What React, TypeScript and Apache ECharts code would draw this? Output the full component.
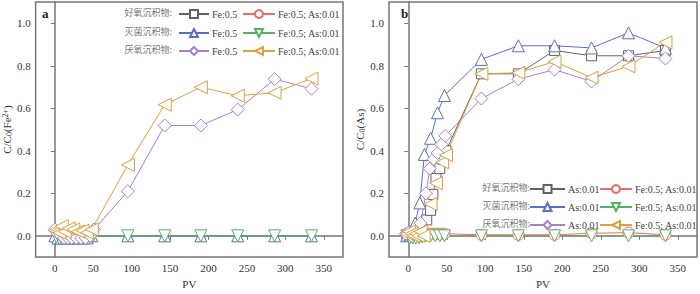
import React, { useEffect, useRef } from "react";
import * as echarts from "echarts";

// ---------- data (PV, C/C0) ----------
const xTicks = [0, 50, 100, 150, 200, 250, 300, 350];
const yTicks = [0, 0.2, 0.4, 0.6, 0.8, 1.0];

// chart a : C/C0(Fe2+)
const aBluePV = [0, 4, 8, 13, 18, 24, 30, 36, 42, 48, 95, 143, 190, 238, 286, 334];
const aBlueC = [0, -0.01, -0.01, -0.01, -0.01, -0.01, -0.01, -0.01, -0.01, 0, 0, 0, 0, 0, 0, 0];
const aGreenPV = [2, 6, 10, 15, 20, 26, 32, 38, 44, 50, 95, 143, 190, 238, 286, 334];
const aGreenC = [-0.005, -0.012, -0.012, -0.012, -0.012, -0.012, -0.012, -0.012, -0.012, 0, 0, 0, 0, 0, 0, 0];
const aPurplePV = [0, 4, 8, 12, 17, 22, 28, 34, 40, 46, 51, 95, 143, 190, 238, 286, 334];
const aPurpleC = [0.03, 0.01, 0.0, -0.01, -0.01, -0.01, -0.01, -0.01, -0.01, 0.0, 0.03, 0.21, 0.519, 0.519, 0.594, 0.737, 0.692];
const aOrangePV = [0, 3, 6, 9, 13, 18, 24, 30, 36, 42, 48, 95, 143, 190, 238, 286, 334];
const aOrangeC = [0.025, 0.02, 0.015, 0.045, 0.02, 0.035, 0.03, 0.02, 0.025, 0.015, 0.03, 0.334, 0.617, 0.699, 0.659, 0.673, 0.74];

// chart b : C/C0(As)
const bGrayPV = [-2, 2, 6, 10, 14, 18, 24, 29, 32, 36, 41, 45, 49, 95, 143, 190, 238, 286, 334];
const bGrayC = [0, 0, 0, 0, 0, 0.01, 0.075, 0.12, 0.195, 0.27, 0.316, 0.36, 0.4, 0.762, 0.762, 0.872, 0.847, 0.847, 0.872];
const bRedPV = [-2, 2, 6, 10, 14, 18, 22, 27, 32, 37, 42, 47, 95, 143, 190, 238, 286, 334];
const bRedC = [0, 0.01, 0, 0.01, 0.01, 0.01, 0.01, 0.01, 0.01, 0.01, 0.01, 0.01, 0.005, 0.005, 0.005, 0.012, 0.015, 0.005];
const bBluePV = [-2, 2, 5, 9, 15, 21, 29, 38, 47, 95, 143, 190, 238, 286, 334];
const bBlueC = [0, 0.005, 0.02, 0.06, 0.155, 0.383, 0.459, 0.579, 0.66, 0.83, 0.894, 0.894, 0.884, 0.955, 0.883];
const bGreenPV = [-2, 2, 6, 10, 14, 18, 23, 29, 35, 41, 47, 95, 143, 190, 238, 286, 334];
const bGreenC = [0, -0.01, -0.01, -0.01, -0.01, -0.005, 0, 0, 0, 0, 0, 0, 0, 0, 0, 0, 0];
const bPurplePV = [-3, 0, 4, 8, 12, 16, 23, 28, 33, 38, 43, 48, 95, 143, 190, 238, 286, 334];
const bPurpleC = [0.01, 0.015, 0, 0.01, 0.03, 0.06, 0.2, 0.316, 0.36, 0.39, 0.43, 0.47, 0.646, 0.737, 0.782, 0.726, 0.847, 0.834];
const bOrangePV = [-2, 1, 4, 7, 10, 13, 16, 20, 29, 36, 44, 49, 95, 143, 190, 238, 286, 334];
const bOrangeC = [0.01, 0.02, 0.01, 0, 0.01, 0, 0.02, 0, 0.15, 0.248, 0.346, 0.38, 0.762, 0.767, 0.82, 0.744, 0.797, 0.91];

const zip = (xs: number[], ys: number[]) => xs.map((x, i) => [x, ys[i]]);

const C = {
  gray: "#6a5f5f",
  red: "#f06a6a",
  blue: "#5a6fc2",
  green: "#56b163",
  purple: "#a680cc",
  orange: "#dca040",
};

const SERIF = "Liberation Serif";
const CJK = "Noto Sans CJK SC";

function mkSeries(name: string, idx: number, color: string, symbol: string, rotate: number, size: number, data: number[][]) {
  return {
    name,
    type: "line",
    xAxisIndex: idx,
    yAxisIndex: idx,
    data,
    symbol,
    symbolSize: size,
    symbolRotate: rotate,
    showAllSymbol: true,
    lineStyle: { color, width: 1 },
    itemStyle: { color: "#ffffff", borderColor: color, borderWidth: 1 },
    emphasis: { disabled: true },
  };
}

function mkAxes(idx: number, yName: any) {
  const axisLine = { show: true, lineStyle: { color: "#777", width: 1.5 } };
  const axisTick = { show: true, length: 4, lineStyle: { color: "#777", width: 1 } };
  return {
    x: {
      type: "value",
      gridIndex: idx,
      min: -25,
      max: 375,
      axisLine,
      axisTick: { ...axisTick, customValues: xTicks },
      axisLabel: { customValues: xTicks, margin: 5, color: "#333", fontFamily: SERIF, fontSize: 11 },
      splitLine: { show: false },
      name: "PV",
      nameLocation: "middle",
      nameGap: 16,
      nameTextStyle: { color: "#333", fontFamily: SERIF, fontSize: 11 },
    },
    y: {
      type: "value",
      gridIndex: idx,
      min: -0.1,
      max: 1.1,
      axisLine,
      axisTick: { ...axisTick, customValues: yTicks },
      axisLabel: {
        customValues: yTicks,
        margin: 5,
        color: "#333",
        fontFamily: SERIF,
        fontSize: 11,
        formatter: (v: number) => v.toFixed(1),
      },
      splitLine: { show: false },
      name: yName,
      nameLocation: "middle",
      nameGap: 20,
      nameTextStyle: {
        color: "#333",
        fontFamily: SERIF,
        fontSize: 11,
        rich: {
          sub: { fontSize: 8, verticalAlign: "bottom", fontFamily: SERIF, color: "#333", padding: [4, 0, 0, 0] },
          sup: { fontSize: 8, verticalAlign: "top", fontFamily: SERIF, color: "#333", padding: [0, 0, 4, 0] },
        },
      },
    },
  };
}

const legendFmt = (name: string) => name.split(" ").slice(1).join(" ");

function mkLegend(name: string, left: number, centerY: number, itemWidth: number) {
  return {
    data: [name],
    left,
    top: centerY - 5,
    padding: 0,
    itemWidth,
    itemHeight: 10,
    itemGap: 0,
    formatter: legendFmt,
    selectedMode: false,
    textStyle: { color: "#444", fontFamily: SERIF, fontSize: 10, padding: [0, 0, 0, -2] },
  };
}

export default function App() {
  const ref = useRef<HTMLDivElement>(null);
  useEffect(() => {
    if (!ref.current) return;
    const chart = echarts.init(ref.current, null, { renderer: "svg" });
    const axA = mkAxes(0, "C/C{sub|0}(Fe{sup|2+})");
    const axB = mkAxes(1, "C/C{sub|0}(As)");

    const sA = [
      mkSeries("a:好氧 Fe:0.5", 0, C.gray, "rect", 0, 10, []),
      mkSeries("a:好氧 Fe:0.5; As:0.01", 0, C.red, "circle", 0, 11, []),
      mkSeries("a:灭菌 Fe:0.5", 0, C.blue, "triangle", 0, 12, zip(aBluePV, aBlueC)),
      mkSeries("a:灭菌 Fe:0.5; As:0.01", 0, C.green, "triangle", 180, 12, zip(aGreenPV, aGreenC)),
      mkSeries("a:厌氧 Fe:0.5", 0, C.purple, "diamond", 0, 13, zip(aPurplePV, aPurpleC)),
      mkSeries("a:厌氧 Fe:0.5; As:0.01", 0, C.orange, "triangle", 90, 13, zip(aOrangePV, aOrangeC)),
    ];
    const sB = [
      mkSeries("b:好氧 As:0.01", 1, C.gray, "rect", 0, 10, zip(bGrayPV, bGrayC)),
      mkSeries("b:好氧 Fe:0.5; As:0.01", 1, C.red, "circle", 0, 11, zip(bRedPV, bRedC)),
      mkSeries("b:灭菌 As:0.01", 1, C.blue, "triangle", 0, 12, zip(bBluePV, bBlueC)),
      mkSeries("b:灭菌 Fe:0.5; As:0.01", 1, C.green, "triangle", 180, 12, zip(bGreenPV, bGreenC)),
      mkSeries("b:厌氧 As:0.01", 1, C.purple, "diamond", 0, 13, zip(bPurplePV, bPurpleC)),
      mkSeries("b:厌氧 Fe:0.5; As:0.01", 1, C.orange, "triangle", 90, 13, zip(bOrangePV, bOrangeC)),
    ];

    const rowsA = [14, 33, 51];
    const rowsB = [189, 207, 225];
    const legends = [
      mkLegend(sA[0].name, 178, rowsA[0], 30),
      mkLegend(sA[1].name, 242, rowsA[0], 32),
      mkLegend(sA[2].name, 178, rowsA[1], 30),
      mkLegend(sA[3].name, 242, rowsA[1], 32),
      mkLegend(sA[4].name, 178, rowsA[2], 30),
      mkLegend(sA[5].name, 242, rowsA[2], 32),
      mkLegend(sB[0].name, 529, rowsB[0], 35),
      mkLegend(sB[1].name, 599, rowsB[0], 32),
      mkLegend(sB[2].name, 529, rowsB[1], 35),
      mkLegend(sB[3].name, 599, rowsB[1], 32),
      mkLegend(sB[4].name, 529, rowsB[2], 35),
      mkLegend(sB[5].name, 599, rowsB[2], 32),
    ];

    const prefix = ["好氧沉积物:", "灭菌沉积物:", "厌氧沉积物:"];
    const graphics: any[] = [];
    prefix.forEach((p, i) => {
      graphics.push({
        type: "text",
        right: 700 - 172,
        top: rowsA[i] - 6,
        style: { text: p, fill: "#777", font: `9px "${CJK}"` },
      });
      graphics.push({
        type: "text",
        right: 700 - 530,
        top: rowsB[i] - 6,
        style: { text: p, fill: "#777", font: `9px "${CJK}"` },
      });
    });
    graphics.push({ type: "text", left: 42, top: 7, style: { text: "a", fill: "#222", font: `bold 13px "${SERIF}"` } });
    graphics.push({ type: "text", left: 401, top: 7, style: { text: "b", fill: "#222", font: `bold 13px "${SERIF}"` } });

    chart.setOption({
      animation: false,
      backgroundColor: "#ffffff",
      grid: [
        { left: 32, top: 2, width: 311, height: 265, show: true, borderColor: "#777", borderWidth: 1.5, backgroundColor: "transparent" },
        { left: 389, top: 2, width: 308, height: 265, show: true, borderColor: "#777", borderWidth: 1.5, backgroundColor: "transparent" },
      ],
      xAxis: [axA.x, axB.x],
      yAxis: [axA.y, axB.y],
      legend: legends,
      series: [...sA, ...sB],
      graphic: graphics,
    });
    return () => chart.dispose();
  }, []);
  return <div ref={ref} style={{ position: "absolute", left: 0, top: 0, width: 700, height: 294 }} />;
}
